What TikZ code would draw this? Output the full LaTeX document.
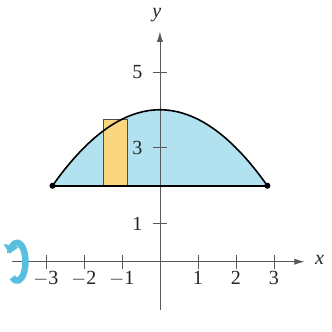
\documentclass[tikz,border=0pt]{standalone}
\usepackage{fontspec}
\setmainfont{Liberation Serif}
\usepackage{tikz}
\usetikzlibrary{arrows.meta}
\definecolor{regionblue}{RGB}{178,226,240}
\definecolor{stripyellow}{RGB}{250,214,128}
\definecolor{turncyan}{RGB}{90,190,225}
\tikzset{
    plot axis/.style={draw=black!65, thin, -{Latex[length=2.6mm, width=1.6mm]}},
    plot tick/.style={draw=black!65, thin},
    tick label/.style={font=\fontsize{15}{18}\selectfont, text=black!85, inner sep=1pt},
    axis name/.style={font=\fontsize{15}{18}\selectfont\itshape, text=black!85},
    region edge/.style={very thick, line cap=round},
    end dot/.style={circle, fill=black, inner sep=0pt, minimum size=1.6mm},
}
\begin{document}
\begin{tikzpicture}[x=1cm, y=1cm]
    \useasboundingbox (-4.21,-1.84) rectangle (4.53,6.89);

    % region between the parabola and the line y = 2
    \fill[regionblue] plot[domain=-2.828:2.828, samples=60] (\x, {4-\x*\x/4}) -- cycle;

    % representative rectangle
    \filldraw[fill=stripyellow, draw=black!70, thin] (-1.5,2) rectangle (-0.87,3.74);

    % axes
    \draw[plot axis] (-3.9,0) -- (3.8,0);
    \draw[plot axis] (0,-1.27) -- (0,6.05);
    \node[axis name] (xname) at (4.2,0.05) {x};
    \node[axis name] (yname) at (-0.08,6.5) {y};

    \foreach \t/\lab in {-3/$-$3, -2/$-$2, -1/$-$1, 1/1, 2/2, 3/3}
        \draw[plot tick] (\t,0.18) -- (\t,-0.18) node[tick label, below=1pt] {\lab};
    \foreach \t in {1,3,5}
        \draw[plot tick] (0.18,\t) -- (-0.18,\t) node[tick label, left=2.4mm] {\t};

    % boundary
    \draw[region edge] plot[domain=-2.828:2.828, samples=60] (\x, {4-\x*\x/4});
    \draw[region edge] (-2.828,2) -- (2.828,2);
    \node[end dot] (lend) at (-2.828,2) {};
    \node[end dot] (rend) at (2.828,2) {};

    % revolution sign
    \draw[turncyan, line width=1.7mm, -{Triangle[length=2.2mm, width=4mm]}]
        (-3.76,0) ++(-125:0.22 and 0.5) arc[start angle=-125, end angle=155, x radius=0.22, y radius=0.5];
\end{tikzpicture}
\end{document}
